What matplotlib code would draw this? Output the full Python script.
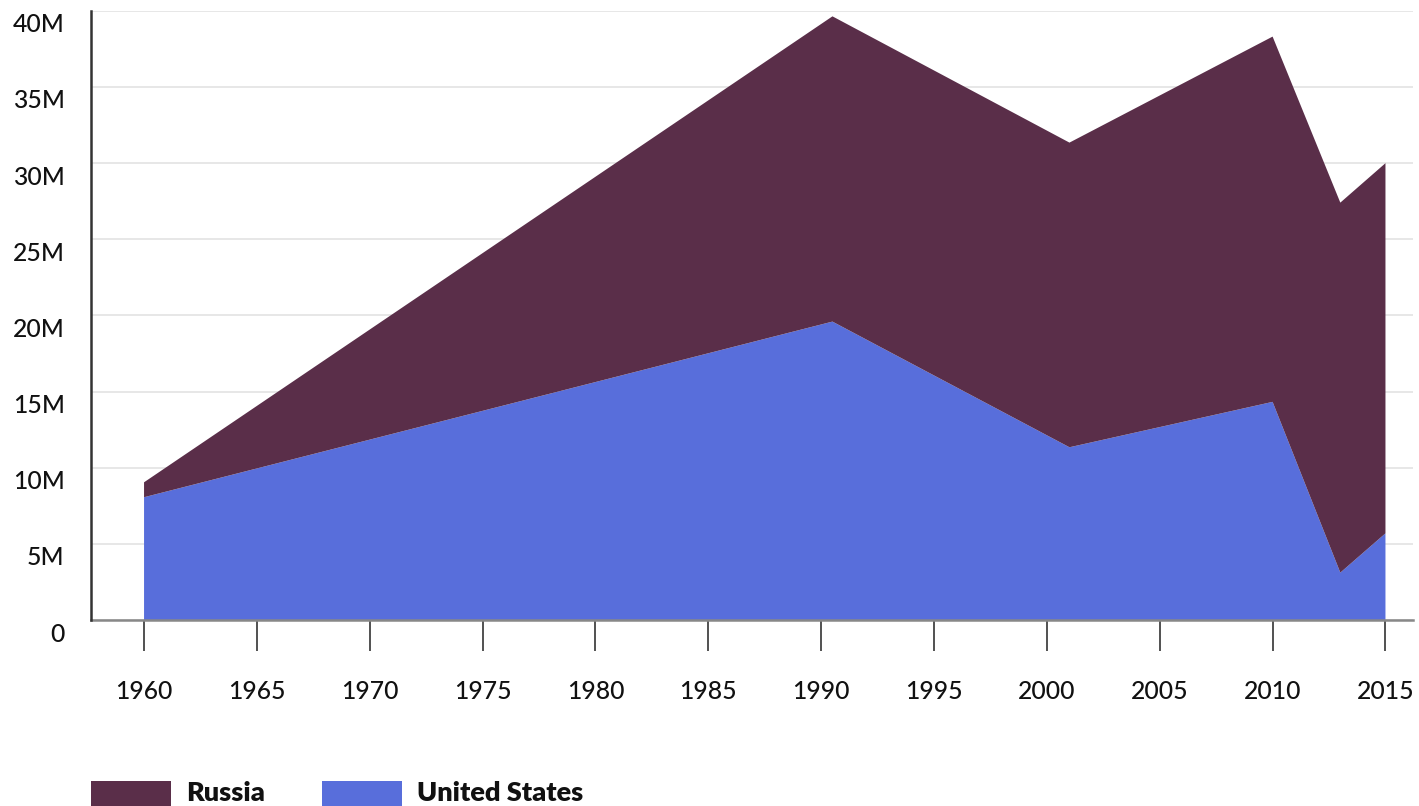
import matplotlib
matplotlib.use("Agg")
import matplotlib.pyplot as plt
from matplotlib.patches import Rectangle
from matplotlib.transforms import ScaledTranslation

# Data (millions)
years = [1960, 1990.5, 2001, 2010, 2013, 2015]
united_states = [8.06, 19.59, 11.34, 14.32, 3.11, 5.69]
russia = [0.98, 20.04, 20.00, 23.98, 24.29, 24.30]
series_names = ["Russia", "United States"]
x_ticks = [1960, 1965, 1970, 1975, 1980, 1985, 1990, 1995, 2000, 2005, 2010, 2015]
y_ticks = [0, 5, 10, 15, 20, 25, 30, 35, 40]
y_labels = ["0", "5M", "10M", "15M", "20M", "25M", "30M", "35M", "40M"]

C_RUS = "#5a2e49"
C_US = "#586edb"

W, H = 1419, 806
fig = plt.figure(figsize=(W / 100, H / 100), dpi=100)
plt.rcParams['font.family'] = ['Lato', 'DejaVu Sans']

ax = fig.add_axes([91 / W, (H - 620) / H, (1413 - 91) / W, (620 - 10.7) / H])
ax.stackplot(years, united_states, russia, colors=[C_US, C_RUS], linewidth=0, zorder=2)

ax.set_xlim(1957.65, 2016.22)
ax.set_ylim(0, 40)
ax.set_xticks(x_ticks)
ax.set_xticklabels([str(t) for t in x_ticks], fontsize=17.8, color="#111111", fontweight="medium")
ax.set_yticks(y_ticks)
ax.set_yticklabels(y_labels, fontsize=17.8, color="#111111", fontweight="medium")
ax.grid(axis="y", color="#e3e3e3", linewidth=1.2, zorder=0)
ax.grid(axis="x", visible=False)
ax.set_axisbelow(True)

ax.tick_params(axis="x", length=22.3, width=1.2, color="#333333", pad=21)
ax.tick_params(axis="y", length=0, pad=19)
for lab in ax.get_yticklabels():
    lab.set_transform(lab.get_transform() + ScaledTranslation(0, -12 / 100, fig.dpi_scale_trans))

for s in ["top", "right"]:
    ax.spines[s].set_visible(False)
ax.spines["left"].set_color("#333333")
ax.spines["left"].set_linewidth(1.8)
ax.spines["bottom"].set_color("#888888")
ax.spines["bottom"].set_linewidth(1.8)
ax.spines["left"].set_zorder(5)

# Legend (manual)
legend_items = [(series_names[0], C_RUS, 91, 171, 186), (series_names[1], C_US, 322, 402, 417)]
for name, col, x0, x1, tx in legend_items:
    fig.patches.append(Rectangle((x0 / W, 0), (x1 - x0) / W, (806 - 781) / H,
                                 transform=fig.transFigure, facecolor=col, edgecolor="none"))
    fig.text(tx / W, (806 - 793) / H, name, fontsize=19.5, fontweight="heavy",
             color="#111111", va="center", ha="left")

fig.savefig("out.png", dpi=100)
